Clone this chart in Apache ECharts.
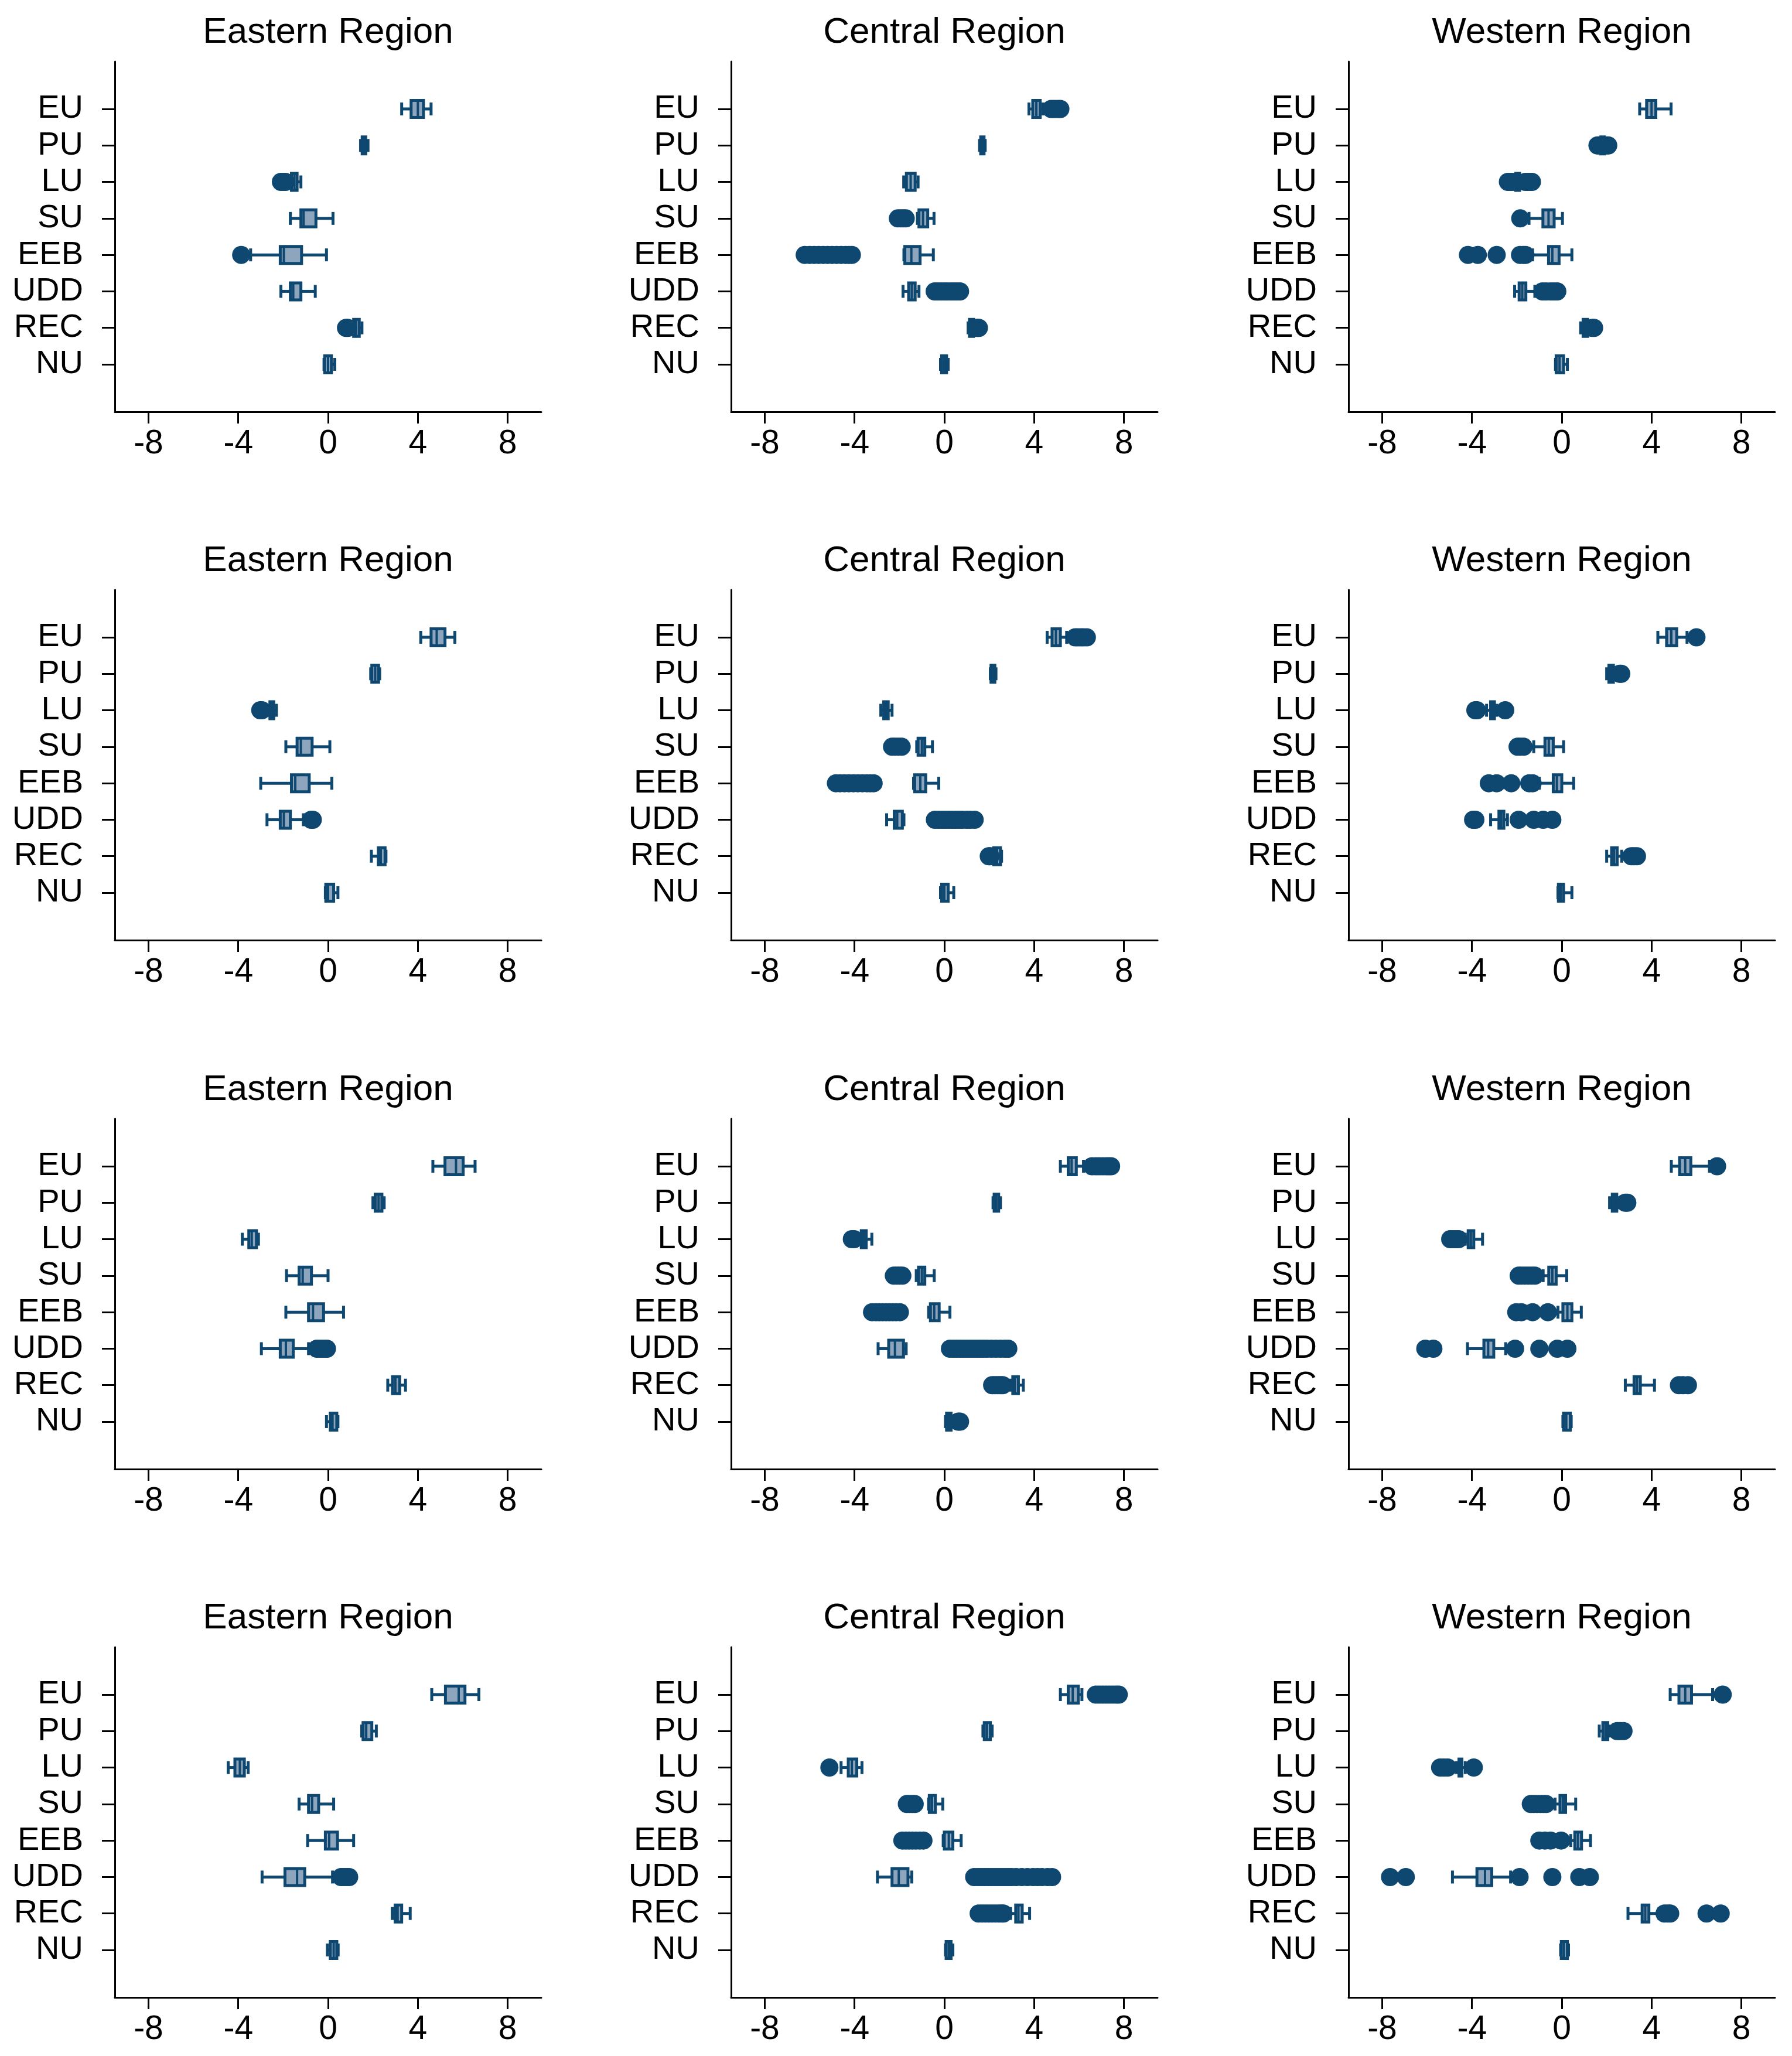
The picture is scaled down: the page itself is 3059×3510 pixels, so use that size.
<!DOCTYPE html>
<html>
<head>
<meta charset="utf-8">
<title>Regional box plots</title>
<script src="https://cdn.jsdelivr.net/npm/echarts@6/dist/echarts.min.js"></script>
<style>
    html, body { margin: 0; padding: 0; background: #fff; }
    #chart { width: 3059px; height: 3510px; }
</style>
</head>
<body>
<div id="chart"></div>
<script>
// categories top to bottom, y position 8 .. 1
const categories = ['EU', 'PU', 'LU', 'SU', 'EEB', 'UDD', 'REC', 'NU'];
const regions = ['Eastern Region', 'Central Region', 'Western Region'];
const xTicks = [-8, -4, 0, 4, 8];

// each row: [lower whisker, q1, median, q3, upper whisker]
const boxE1 = [[3.28, 3.70, 4.0, 4.25, 4.59], [1.45, 1.52, 1.6, 1.68, 1.78], [-1.75, -1.63, -1.5, -1.38, -1.21], [-1.68, -1.21, -1.09, -0.54, 0.22], [-3.45, -2.13, -1.97, -1.18, -0.07], [-2.1, -1.68, -1.55, -1.21, -0.57], [1.0, 1.14, 1.25, 1.39, 1.51], [-0.18, -0.15, 0.0, 0.15, 0.3]];
const outE1 = [[], [], [-2.1, -2.0, -1.9], [], [-3.87], [], [0.8, 0.88], []];

const boxC1 = [[3.77, 3.94, 4.1, 4.27, 4.4], [1.57, 1.62, 1.7, 1.77, 1.82], [-1.81, -1.69, -1.5, -1.3, -1.17], [-1.2, -1.13, -0.95, -0.74, -0.46], [-1.8, -1.76, -1.47, -1.08, -0.49], [-1.84, -1.59, -1.45, -1.3, -1.13], [1.06, 1.12, 1.2, 1.3, 1.35], [-0.17, -0.12, 0.0, 0.1, 0.17]];
const outC1 = [[4.76, 4.9, 5.05, 5.17], [], [], [-2.07, -1.95, -1.83, -1.72], [-6.22, -6.0, -5.8, -5.6, -5.4, -5.2, -5.0, -4.8, -4.6, -4.4, -4.25, -4.12], [-0.43, -0.3, -0.15, 0.0, 0.12, 0.28, 0.42, 0.55, 0.7], [1.43, 1.5, 1.54], []];

const boxW1 = [[3.47, 3.78, 4.0, 4.19, 4.87], [1.7, 1.74, 1.82, 1.9, 1.95], [-2.1, -2.05, -1.96, -1.88, -1.8], [-1.46, -0.84, -0.59, -0.34, 0.03], [-1.3, -0.59, -0.42, -0.12, 0.45], [-2.1, -1.9, -1.76, -1.6, -1.2], [0.84, 0.95, 1.05, 1.15, 1.2], [-0.28, -0.25, -0.1, 0.08, 0.25]];
const outW1 = [[], [1.59, 1.65, 2.0, 2.07], [-2.4, -2.3, -2.2, -1.62, -1.5, -1.4, -1.33], [-1.85], [-4.18, -3.74, -2.9, -1.86, -1.72, -1.62], [-0.86, -0.7, -0.5, -0.35, -0.2], [1.36, 1.44], []];

const boxE2 = [[4.13, 4.59, 4.84, 5.21, 5.65], [1.9, 1.95, 2.1, 2.25, 2.3], [-2.7, -2.59, -2.5, -2.42, -2.3], [-1.88, -1.38, -1.21, -0.71, 0.08], [-3.0, -1.63, -1.46, -0.84, 0.17], [-2.72, -2.13, -1.97, -1.68, -1.1], [1.93, 2.24, 2.35, 2.54, 2.58], [-0.12, -0.1, 0.0, 0.25, 0.44]];
const outE2 = [[], [], [-3.02, -2.95], [], [], [-0.75, -0.68], [], []];

const boxC2 = [[4.58, 4.8, 4.97, 5.17, 5.45], [2.05, 2.08, 2.15, 2.25, 2.3], [-2.83, -2.7, -2.6, -2.5, -2.33], [-1.23, -1.17, -1.0, -0.87, -0.53], [-1.37, -1.32, -1.07, -0.83, -0.25], [-2.57, -2.23, -2.1, -1.87, -1.8], [2.15, 2.2, 2.35, 2.5, 2.55], [-0.17, -0.12, 0.0, 0.17, 0.42]];
const outC2 = [[5.83, 5.95, 6.08, 6.2, 6.35], [], [], [-2.33, -2.2, -2.05, -1.9], [-4.83, -4.65, -4.45, -4.25, -4.05, -3.85, -3.65, -3.45, -3.3, -3.15], [-0.42, -0.25, -0.1, 0.05, 0.2, 0.35, 0.5, 0.65, 0.8, 1.0, 1.15, 1.35], [1.98, 2.05], []];

const boxW2 = [[4.28, 4.67, 4.88, 5.12, 5.58], [2.0, 2.1, 2.2, 2.3, 2.35], [-3.35, -3.17, -3.1, -3.0, -2.9], [-1.25, -0.75, -0.58, -0.38, 0.08], [-1.0, -0.38, -0.22, 0.0, 0.53], [-3.17, -2.8, -2.7, -2.58, -2.42], [2.0, 2.22, 2.33, 2.47, 2.67], [-0.17, -0.15, -0.05, 0.08, 0.45]];
const outW2 = [[6.0], [2.58, 2.65], [-3.85, -3.78, -2.52], [-1.97, -1.85, -1.7], [-3.25, -2.9, -2.25, -1.45, -1.3], [-3.95, -3.85, -1.92, -1.25, -0.83, -0.42], [3.1, 3.22, 3.35], []];

const boxE3 = [[4.67, 5.21, 5.7, 6.02, 6.55], [2.0, 2.1, 2.25, 2.4, 2.5], [-3.82, -3.53, -3.4, -3.19, -3.1], [-1.85, -1.29, -1.13, -0.74, 0.0], [-1.88, -0.87, -0.67, -0.2, 0.69], [-2.97, -2.13, -1.88, -1.55, -0.87], [2.66, 2.87, 3.0, 3.19, 3.45], [-0.07, 0.1, 0.2, 0.39, 0.44]];
const outE3 = [[], [], [], [], [], [-0.5, -0.38, -0.25, -0.12, -0.05], [], []];

const boxC3 = [[5.17, 5.52, 5.67, 5.88, 6.2], [2.17, 2.22, 2.3, 2.42, 2.5], [-3.8, -3.7, -3.6, -3.48, -3.23], [-1.25, -1.15, -1.0, -0.87, -0.45], [-0.7, -0.62, -0.45, -0.23, 0.25], [-2.95, -2.48, -2.2, -1.82, -1.7], [2.95, 3.05, 3.15, 3.3, 3.52], [0.05, 0.1, 0.2, 0.3, 0.4]];
const outC3 = [[6.58, 6.75, 6.9, 7.05, 7.2, 7.32, 7.43], [], [-4.12, -4.02], [-2.25, -2.12, -2.0, -1.87], [-3.22, -3.05, -2.9, -2.75, -2.6, -2.45, -2.3, -2.15, -1.98], [0.25, 0.4, 0.55, 0.7, 0.85, 1.0, 1.15, 1.3, 1.45, 1.6, 1.75, 1.9, 2.1, 2.3, 2.5, 2.7, 2.85], [2.13, 2.25, 2.38, 2.5, 2.6], [0.62, 0.7]];

const boxW3 = [[4.88, 5.25, 5.5, 5.75, 6.58], [2.13, 2.25, 2.35, 2.45, 2.5], [-4.3, -4.17, -4.05, -3.92, -3.53], [-0.83, -0.58, -0.42, -0.25, 0.22], [-0.17, 0.05, 0.25, 0.45, 0.87], [-4.2, -3.47, -3.28, -3.03, -2.5], [2.83, 3.22, 3.35, 3.5, 4.13], [0.05, 0.08, 0.2, 0.38, 0.42]];
const outW3 = [[6.92], [2.83, 2.92], [-4.97, -4.85, -4.72, -4.6], [-1.92, -1.8, -1.65, -1.5, -1.35, -1.2], [-2.03, -1.8, -1.3, -0.62], [-6.08, -5.72, -2.08, -1.0, -0.2, 0.25], [5.22, 5.4, 5.62], []];

const boxE4 = [[4.62, 5.23, 5.82, 6.1, 6.72], [1.5, 1.56, 1.7, 1.95, 2.15], [-4.45, -4.15, -3.93, -3.73, -3.56], [-1.29, -0.87, -0.71, -0.42, 0.25], [-0.91, -0.12, 0.05, 0.42, 1.14], [-2.94, -1.92, -1.38, -1.04, 0.2], [2.86, 2.99, 3.1, 3.28, 3.66], [-0.03, 0.1, 0.25, 0.39, 0.45]];
const outE4 = [[], [], [], [], [], [0.58, 0.7, 0.82, 0.94], [], []];

const boxC4 = [[5.17, 5.52, 5.72, 5.97, 6.13], [1.72, 1.78, 1.9, 2.05, 2.13], [-4.6, -4.28, -4.12, -3.9, -3.67], [-0.7, -0.67, -0.55, -0.4, -0.07], [-0.05, 0.0, 0.2, 0.38, 0.75], [-2.98, -2.33, -2.03, -1.62, -1.45], [2.95, 3.18, 3.3, 3.47, 3.8], [0.05, 0.08, 0.2, 0.3, 0.38]];
const outC4 = [[6.75, 6.9, 7.05, 7.2, 7.35, 7.5, 7.65, 7.77], [], [-5.12], [-1.67, -1.55, -1.43, -1.32], [-1.87, -1.72, -1.57, -1.42, -1.27, -1.1, -0.93], [1.33, 1.5, 1.65, 1.8, 1.95, 2.1, 2.25, 2.4, 2.55, 2.7, 2.85, 3.0, 3.2, 3.45, 3.7, 3.95, 4.15, 4.35, 4.6, 4.8], [1.53, 1.68, 1.83, 1.98, 2.13, 2.28, 2.43, 2.55, 2.63], []];

const boxW4 = [[4.83, 5.22, 5.5, 5.78, 6.72], [1.67, 1.83, 1.95, 2.05, 2.1], [-4.7, -4.58, -4.5, -4.45, -4.3], [-0.3, -0.08, 0.05, 0.17, 0.62], [0.4, 0.58, 0.72, 0.88, 1.28], [-4.87, -3.78, -3.42, -3.12, -2.28], [2.95, 3.58, 3.72, 3.88, 4.33], [-0.05, -0.02, 0.1, 0.25, 0.3]];
const outW4 = [[7.17], [2.47, 2.6, 2.75], [-5.42, -5.25, -5.08, -3.92], [-1.38, -1.25, -1.1, -0.95, -0.82, -0.7], [-1.0, -0.75, -0.5, -0.03], [-7.65, -6.95, -1.88, -0.42, 0.78, 1.25], [4.58, 4.72, 4.83, 6.45, 7.08], []];

// panels row by row
const panelBoxes = [boxE1, boxC1, boxW1, boxE2, boxC2, boxW2, boxE3, boxC3, boxW3, boxE4, boxC4, boxW4];
const panelOutliers = [outE1, outC1, outW1, outE2, outC2, outW2, outE3, outC3, outW3, outE4, outC4, outW4];

const NAVY = '#0e4770';
const BOX_FILL = '#8ea6bd';
const FONT = '"Liberation Sans", Arial, sans-serif';

const colLeft = [196, 1248, 2302];
const rowTop = [105, 1007, 1910, 2812];
const gridW = 728;
const gridH = 598;

// category index -> y position (EU on top)
const catPos = (i) => categories.length - i;

function renderBox(params, api) {
    const y = api.value(0);
    const lo = api.coord([api.value(1), y]);
    const q1 = api.coord([api.value(2), y]);
    const md = api.coord([api.value(3), y]);
    const q3 = api.coord([api.value(4), y]);
    const hi = api.coord([api.value(5), y]);
    const cy = lo[1];
    const bh = 29, ch = 22;
    const line = { stroke: NAVY, lineWidth: 5 };
    return {
        type: 'group',
        children: [
            { type: 'line', shape: { x1: lo[0], y1: cy, x2: q1[0], y2: cy }, style: line },
            { type: 'line', shape: { x1: q3[0], y1: cy, x2: hi[0], y2: cy }, style: line },
            { type: 'line', shape: { x1: lo[0], y1: cy - ch / 2, x2: lo[0], y2: cy + ch / 2 }, style: line },
            { type: 'line', shape: { x1: hi[0], y1: cy - ch / 2, x2: hi[0], y2: cy + ch / 2 }, style: line },
            { type: 'rect', shape: { x: q1[0], y: cy - bh / 2, width: q3[0] - q1[0], height: bh }, style: { fill: BOX_FILL, stroke: NAVY, lineWidth: 5 } },
            { type: 'line', shape: { x1: md[0], y1: cy - bh / 2, x2: md[0], y2: cy + bh / 2 }, style: { stroke: NAVY, lineWidth: 4 } }
        ]
    };
}

const grids = [], xAxes = [], yAxes = [], series = [], graphics = [];

panelBoxes.forEach((boxes, p) => {
    const row = Math.floor(p / 3), col = p % 3;
    grids.push({ left: colLeft[col], top: rowTop[row], width: gridW, height: gridH, outerBoundsMode: 'none' });

    xAxes.push({
        type: 'value', gridIndex: p, min: -9.5, max: 9.5,
        axisLine: { show: true, onZero: false, lineStyle: { color: '#000', width: 3 } },
        axisTick: { show: true, length: 20, customValues: xTicks, lineStyle: { color: '#000', width: 3 } },
        axisLabel: { customValues: xTicks, margin: 27, fontSize: 57, color: '#000', fontFamily: FONT },
        splitLine: { show: false }
    });
    yAxes.push({
        type: 'value', gridIndex: p, min: -0.3, max: 9.3,
        axisLine: { show: true, onZero: false, lineStyle: { color: '#000', width: 3 } },
        axisTick: { show: true, length: 22, customValues: [1, 2, 3, 4, 5, 6, 7, 8], lineStyle: { color: '#000', width: 3 } },
        axisLabel: {
            customValues: [1, 2, 3, 4, 5, 6, 7, 8], margin: 54, fontSize: 56, color: '#000', fontFamily: FONT,
            formatter: (v) => categories[categories.length - Math.round(v)] || ''
        },
        splitLine: { show: false }
    });

    series.push({
        type: 'custom', xAxisIndex: p, yAxisIndex: p, z: 2,
        renderItem: renderBox,
        encode: { x: [1, 2, 3, 4, 5], y: 0 },
        data: boxes.map((b, i) => [catPos(i)].concat(b)),
        silent: true
    });

    const pts = [];
    panelOutliers[p].forEach((list, i) => list.forEach((v) => pts.push([v, catPos(i)])));
    series.push({
        type: 'scatter', xAxisIndex: p, yAxisIndex: p, z: 3,
        symbol: 'circle', symbolSize: 31,
        itemStyle: { color: NAVY, opacity: 1 },
        data: pts,
        silent: true
    });

    graphics.push({
        type: 'text',
        x: colLeft[col] + gridW / 2,
        y: rowTop[row] - 49,
        style: { text: regions[col], fontSize: 62, fontFamily: FONT, fill: '#000', align: 'center', verticalAlign: 'middle' }
    });
});

const chart = echarts.init(document.getElementById('chart'));
chart.setOption({
    backgroundColor: '#fff',
    animation: false,
    grid: grids,
    xAxis: xAxes,
    yAxis: yAxes,
    series: series,
    graphic: graphics
});
</script>
</body>
</html>
